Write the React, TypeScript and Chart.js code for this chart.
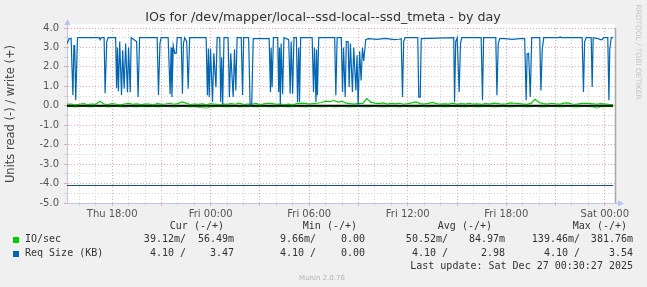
import React, { useEffect, useRef } from 'react';
import { Chart, registerables } from 'chart.js';

Chart.register(...registerables);

// ---- data (time in hours relative to Thu 18:00) ----
const TITLE = 'IOs for /dev/mapper/local--ssd-local--ssd_tmeta - by day';
const Y_TITLE = 'Units read (-) / write (+)';
const SIDE_TEXT = 'RRDTOOL / TOBI OETIKER';
const FOOTER = 'Munin 2.0.76';
const LAST_UPDATE = 'Last update: Sat Dec 27 00:30:27 2025';

const X_MIN = -2.75;
const X_MAX = 30.62;
const Y_MIN = -5;
const Y_MAX = 4;
const xTickHours = [0, 6, 12, 18, 24, 30];
const xTickLabels = ['Thu 18:00', 'Fri 00:00', 'Fri 06:00', 'Fri 12:00', 'Fri 18:00', 'Sat 00:00'];

const seriesNames = ['IO/sec', 'Req Size (KB)'];
const seriesColors = ['#00cc00', '#0066b3'];
const legendHeaders = ['Cur (-/+)', 'Min (-/+)', 'Avg (-/+)', 'Max (-/+)'];
const ioLegendValues = ['39.12m/', '56.49m', '9.66m/', '0.00', '50.52m/', '84.97m', '139.46m/', '381.76m'];
const reqLegendValues = ['4.10 /', '3.47', '4.10 /', '0.00', '4.10 /', '2.98', '4.10 /', '3.54'];

// Req Size write (+)
const reqWriteHours = [
  -2.74, -2.62, -2.5, -2.39, -2.33, -2.28, -2.22, -2.11,
  -0.79, -0.73, -0.67, -0.49, -0.43, -0.33, -0.24,
  0.21, 0.27, 0.32, 0.38, 0.46, 0.57, 0.64, 0.73, 0.82, 0.93, 1.0, 1.1, 1.16,
  1.49, 1.58, 1.67,
  2.74, 2.82, 2.91, 2.98,
  3.41, 3.53, 3.59, 3.64, 3.72, 3.81, 3.9, 3.96,
  4.2, 4.28, 4.34, 4.42, 4.54, 4.63, 4.72,
  5.72, 5.8, 5.86, 5.91, 5.99, 6.11, 6.19, 6.32, 6.39,
  6.55, 6.61, 6.67, 6.73, 6.81,
  7.06, 7.14, 7.22, 7.37, 7.45, 7.53, 7.61,
  7.86, 7.94, 8.01,
  8.31, 8.4, 8.5, 8.59,
  9.56, 9.64, 9.68, 9.74, 9.82,
  10.08, 10.14, 10.19, 10.24, 10.29, 10.38, 10.46,
  10.75, 10.84, 10.9, 10.99, 11.07,
  11.22, 11.29, 11.36, 11.41, 11.48,
  12.18, 12.26, 12.32, 12.41, 12.45, 12.5, 12.58,
  13.55, 13.62, 13.7,
  13.95, 14.03, 14.09, 14.19, 14.26, 14.37, 14.43, 14.51, 14.63, 14.71, 14.84, 14.91, 14.98, 15.07, 15.16, 15.24, 15.32, 15.44,
  15.59, 16.14, 16.63, 17.17, 17.48, 17.6, 17.68, 17.75, 17.84,
  18.61, 18.67, 18.76, 18.82,
  20.8, 20.85, 20.92, 21.01, 21.13, 21.21, 21.29,
  22.47, 22.55, 22.62,
  23.36, 23.43, 23.51, 23.6,
  23.93, 24.36, 24.85, 25.12, 25.21, 25.27, 25.36, 25.46, 25.55,
  26.04, 26.11, 26.19, 26.28,
  27.22, 27.28, 27.34,
  28.62, 28.7, 28.77, 28.87,
  29.17, 29.23, 29.29,
  29.6, 29.72, 29.84, 29.93,
  30.18, 30.25, 30.3, 30.39, 30.51,
];
const reqWriteValues = [
  3.2, 3.45, 3.45, 0.54, 3.1, 3.1, 0.3, 3.5,
  3.5, 3.4, 3.5, 3.5, 0.65, 3.3, 3.5,
  3.5, 0.9, 3.0, 0.75, 3.3, 0.55, 2.85, 0.88, 3.2, 0.7, 3.0, 0.7, 3.5,
  3.3, 0.45, 3.5,
  3.5, 0.55, 3.2, 3.5,
  3.5, 0.6, 3.0, 0.45, 3.1, 2.7, 2.7, 3.5,
  3.5, 0.62, 3.2, 3.5, 3.3, 0.88, 3.5,
  3.5, 0.54, 2.95, 0.45, 2.95, 0.19, 2.7, 0.96, 3.5,
  3.5, 0.19, 2.5, 0.05, 3.5,
  3.5, 0.45, 2.7, 0.45, 2.9, 0.79, 3.5,
  3.5, 0.55, 3.5,
  3.5, 0.03, 0.1, 3.45,
  3.45, 0.7, 3.0, 0.96, 3.5,
  3.5, 0.71, 3.0, 0.05, 3.2, 0.6, 3.5,
  3.4, 0.62, 3.3, 0.62, 3.5,
  3.5, 0.19, 3.0, 0.2, 3.5,
  3.5, 0.71, 3.0, 0.19, 2.9, 0.54, 3.5,
  3.5, 0.54, 3.5,
  3.5, 0.71, 3.0, 0.45, 3.3, 3.3, 0.96, 3.2, 0.71, 3.0, 0.79, 2.6, 0.0, 2.8, 1.3, 3.0, 2.3, 3.4,
  3.45, 3.42, 3.47, 3.4, 3.42, 3.45, 0.45, 3.3, 3.5,
  3.5, 0.45, 0.45, 3.45,
  3.5, 0.19, 3.3, 3.5, 0.71, 3.2, 3.5,
  3.5, 0.28, 3.5,
  3.5, 0.54, 3.2, 3.45,
  3.45, 3.42, 3.45, 3.45, 0.28, 2.67, 2.7, 0.45, 3.5,
  3.5, 0.79, 2.9, 3.5,
  3.5, 3.55, 3.5,
  3.5, 0.71, 3.3, 3.5,
  3.5, 0.96, 3.5,
  3.45, 3.4, 3.4, 3.5,
  3.5, 0.28, 2.9, 3.5, 3.5,
];

// Req Size read (-)
const reqReadHours = [-2.75, 30.51];
const reqReadValues = [-4.1, -4.1];

// IO/sec, sampled every 15 minutes from Thu 15:15
const ioStartHour = -2.75;
const ioStepHours = 0.25;
const ioWriteValues = [
  0.07, 0.09, 0.05, 0.08, 0.11, 0.06, 0.09, 0.07,
  0.23,
  0.09, 0.06, 0.11, 0.08, 0.05, 0.09, 0.12, 0.07, 0.1, 0.06, 0.08,
  0.09, 0.05, 0.11, 0.07, 0.09, 0.13, 0.08, 0.11, 0.2, 0.14,
  0.06, 0.09, 0.07, 0.1, 0.05, 0.11, 0.08, 0.06, 0.09, 0.07,
  0.11, 0.08, 0.14, 0.06, 0.09, 0.07, 0.12, 0.05, 0.1, 0.13,
  0.11, 0.07, 0.09, 0.06, 0.08, 0.05, 0.11, 0.14, 0.12, 0.09,
  0.11, 0.13, 0.17, 0.24, 0.21, 0.27, 0.19, 0.23, 0.14, 0.11,
  0.09, 0.13, 0.11, 0.37, 0.19, 0.14, 0.11, 0.15, 0.09, 0.12,
  0.1, 0.13, 0.08, 0.11, 0.15, 0.2, 0.11, 0.09, 0.12, 0.17,
  0.11, 0.08, 0.1, 0.09, 0.14, 0.07, 0.11, 0.09, 0.12, 0.08,
  0.1, 0.07, 0.11, 0.09, 0.14, 0.11, 0.08, 0.1, 0.15, 0.13,
  0.11, 0.09, 0.07, 0.12, 0.33, 0.17, 0.11, 0.09, 0.13, 0.1,
  0.08, 0.14, 0.15, 0.09, 0.07, 0.11, 0.13, 0.12, 0.1, 0.08,
  0.11, 0.09, 0.07, 0.06,
];
const ioReadValues = [
  -0.05, -0.04, -0.06, -0.05, -0.03, -0.05, -0.06, -0.04,
  -0.05,
  -0.04, -0.06, -0.05, -0.04, -0.05, -0.07, -0.04, -0.05, -0.06, -0.04, -0.05,
  -0.05, -0.04, -0.06, -0.05, -0.04, -0.05, -0.06, -0.05, -0.04, -0.05,
  -0.06, -0.05, -0.08, -0.1, -0.12, -0.06, -0.05, -0.04, -0.05, -0.06,
  -0.05, -0.04, -0.06, -0.05, -0.05, -0.04, -0.06, -0.05, -0.04, -0.05,
  -0.06, -0.05, -0.04, -0.05, -0.06, -0.05, -0.04, -0.05, -0.06, -0.05,
  -0.04, -0.05, -0.06, -0.05, -0.04, -0.06, -0.05, -0.04, -0.05, -0.06,
  -0.05, -0.04, -0.05, -0.06, -0.05, -0.04, -0.05, -0.06, -0.05, -0.04,
  -0.05, -0.06, -0.04, -0.05, -0.05, -0.06, -0.04, -0.05, -0.06, -0.05,
  -0.04, -0.05, -0.06, -0.05, -0.04, -0.05, -0.05, -0.06, -0.04, -0.05,
  -0.06, -0.05, -0.04, -0.05, -0.06, -0.05, -0.04, -0.05, -0.06, -0.05,
  -0.04, -0.05, -0.06, -0.05, -0.04, -0.05, -0.06, -0.05, -0.04, -0.05,
  -0.06, -0.05, -0.04, -0.05, -0.06, -0.05, -0.04, -0.05, -0.06, -0.12,
  -0.06, -0.05, -0.04, -0.05,
];

const zeroHours = [-2.75, 30.51];
const zeroValues = [0, 0];

const toPoints = (xs: number[], ys: number[]) => xs.map((x, i) => ({ x, y: ys[i] }));
const ioPoints = (ys: number[]) => ys.map((y, i) => ({ x: ioStartHour + i * ioStepHours, y }));

const MAJOR = '#eaa6a6';
const MINOR = '#d4d4d4';
const AXIS = '#c4c4e4';

const decorPlugin = {
  id: 'muninDecor',
  beforeDraw(chart: any) {
    const { ctx, chartArea: a } = chart;
    ctx.save();
    ctx.fillStyle = '#f0f0f0';
    ctx.fillRect(0, 0, chart.width, chart.height);
    ctx.fillStyle = '#ffffff';
    ctx.fillRect(a.left, a.top - 4, a.right - a.left, a.bottom - a.top + 4);
    ctx.restore();
  },
  afterDraw(chart: any) {
    const { ctx, chartArea: a } = chart;
    ctx.save();
    // right edge line
    ctx.strokeStyle = '#a8a8a8';
    ctx.lineWidth = 1.5;
    ctx.beginPath();
    ctx.moveTo(a.right + 0.5, a.top);
    ctx.lineTo(a.right + 0.5, a.bottom);
    ctx.stroke();
    // axis extensions + arrows
    ctx.strokeStyle = AXIS;
    ctx.lineWidth = 1;
    ctx.beginPath();
    ctx.moveTo(a.left + 0.5, a.top);
    ctx.lineTo(a.left + 0.5, a.top - 4);
    ctx.moveTo(a.right, a.bottom + 0.5);
    ctx.lineTo(a.right + 4, a.bottom + 0.5);
    ctx.stroke();
    ctx.fillStyle = '#b8c2f0';
    ctx.beginPath();
    ctx.moveTo(a.left + 0.5, a.top - 9);
    ctx.lineTo(a.left - 2.5, a.top - 3);
    ctx.lineTo(a.left + 3.5, a.top - 3);
    ctx.closePath();
    ctx.fill();
    ctx.beginPath();
    ctx.moveTo(a.right + 9, a.bottom + 0.5);
    ctx.lineTo(a.right + 3, a.bottom - 2.5);
    ctx.lineTo(a.right + 3, a.bottom + 3.5);
    ctx.closePath();
    ctx.fill();

    // title
    ctx.fillStyle = '#333333';
    ctx.textAlign = 'center';
    ctx.textBaseline = 'middle';
    ctx.font = '12.7px "DejaVu Sans"';
    ctx.fillText(TITLE, 323, 18);

    // y title
    ctx.save();
    ctx.translate(11, 114);
    ctx.rotate(-Math.PI / 2);
    ctx.font = '11.5px "DejaVu Sans"';
    ctx.fillStyle = '#444444';
    ctx.fillText(Y_TITLE, 0, 0);
    ctx.restore();

    // side text
    ctx.save();
    ctx.translate(637.5, 52);
    ctx.rotate(Math.PI / 2);
    ctx.font = '7.4px "DejaVu Sans"';
    ctx.fillStyle = '#c4c4c4';
    ctx.fillText(SIDE_TEXT, 0, 0);
    ctx.restore();

    // legend
    ctx.font = '10px "DejaVu Sans Mono"';
    ctx.fillStyle = '#333333';
    ctx.textAlign = 'right';
    const headerRight = [224, 357, 492, 627];
    legendHeaders.forEach((h, i) => ctx.fillText(h, headerRight[i], 226.5));
    const valueRight = [186, 234, 316, 365, 448, 505, 580, 633];
    const rowsY = [239.5, 253.5];
    const rows = [ioLegendValues, reqLegendValues];
    rows.forEach((vals, r) => {
      vals.forEach((v, i) => ctx.fillText(v, valueRight[i], rowsY[r]));
    });
    ctx.textAlign = 'left';
    seriesNames.forEach((n, r) => {
      ctx.fillStyle = seriesColors[r];
      ctx.fillRect(13, Math.round(rowsY[r]) - 3, 6, 6);
      ctx.fillStyle = '#333333';
      ctx.fillText(n, 25, rowsY[r]);
    });
    ctx.textAlign = 'right';
    ctx.fillText(LAST_UPDATE, 633, 266);

    ctx.textAlign = 'center';
    ctx.font = '7px "DejaVu Sans"';
    ctx.fillStyle = '#b4b4b4';
    ctx.fillText(FOOTER, 322, 278);
    ctx.restore();
  },
};

export default function App() {
  const ref = useRef<HTMLCanvasElement | null>(null);
  useEffect(() => {
    document.body.style.margin = '0';
    const canvas = ref.current;
    if (!canvas) return;
    const chart = new Chart(canvas, {
      type: 'line',
      data: {
        datasets: [
          { label: 'Req Size write', data: toPoints(reqWriteHours, reqWriteValues), borderColor: seriesColors[1], borderWidth: 1.2 },
          { label: 'IO/sec write', data: ioPoints(ioWriteValues), borderColor: seriesColors[0], borderWidth: 1.2 },
          { label: 'zero', data: toPoints(zeroHours, zeroValues), borderColor: '#000000', borderWidth: 2 },
          { label: 'IO/sec read', data: ioPoints(ioReadValues), borderColor: seriesColors[0], borderWidth: 0.8 },
          { label: 'Req Size read', data: toPoints(reqReadHours, reqReadValues), borderColor: '#1a4a85', borderWidth: 1.2 },
        ].map((d) => ({ ...d, pointRadius: 0, tension: 0, fill: false })),
      },
      options: {
        animation: false,
        responsive: false,
        maintainAspectRatio: false,
        events: [],
        layout: { padding: { left: 0, right: 32, top: 28, bottom: 64 } },
        plugins: { legend: { display: false }, tooltip: { enabled: false }, title: { display: false } },
        scales: {
          x: {
            type: 'linear',
            min: X_MIN,
            max: X_MAX,
            afterBuildTicks: (s: any) => {
              const t = [];
              for (let h = Math.ceil(X_MIN); h <= Math.floor(X_MAX); h++) t.push({ value: h });
              s.ticks = t;
            },
            afterFit: (s: any) => { s.height = 20; },
            ticks: {
              autoSkip: false,
              maxRotation: 0,
              minRotation: 0,
              padding: 2,
              color: '#555555',
              font: { family: 'DejaVu Sans', size: 10 },
              callback: (v: any) => {
                const i = xTickHours.indexOf(Number(v));
                return i >= 0 ? xTickLabels[i] : '';
              },
            },
            grid: {
              color: (c: any) => (c.tick && Math.round(c.tick.value) % 3 === 0 ? MAJOR : MINOR),
              lineWidth: 1,
              tickLength: 3,
            },
            border: { display: true, color: AXIS, width: 1, dash: [1, 2] },
          },
          y: {
            type: 'linear',
            min: Y_MIN,
            max: Y_MAX,
            afterBuildTicks: (s: any) => {
              const t = [];
              for (let v = Y_MIN; v <= Y_MAX + 1e-9; v += 0.5) t.push({ value: v });
              s.ticks = t;
            },
            afterFit: (s: any) => { s.width = 67; },
            ticks: {
              autoSkip: false,
              padding: 5,
              color: '#555555',
              font: { family: 'DejaVu Sans', size: 10 },
              callback: (v: any) => (Number.isInteger(Number(v)) ? Number(v).toFixed(1) : ''),
            },
            grid: {
              color: (c: any) => (c.tick && Number.isInteger(c.tick.value) ? MAJOR : MINOR),
              lineWidth: 1,
              tickLength: 3,
            },
            border: { display: true, color: AXIS, width: 1, dash: [1, 2] },
          },
        },
      } as any,
      plugins: [decorPlugin],
    });
    return () => chart.destroy();
  }, []);
  return (
    <div style={{ position: 'fixed', left: 0, top: 0, width: 647, height: 287 }}>
      <canvas ref={ref} width={647} height={287} style={{ width: 647, height: 287 }} />
    </div>
  );
}
